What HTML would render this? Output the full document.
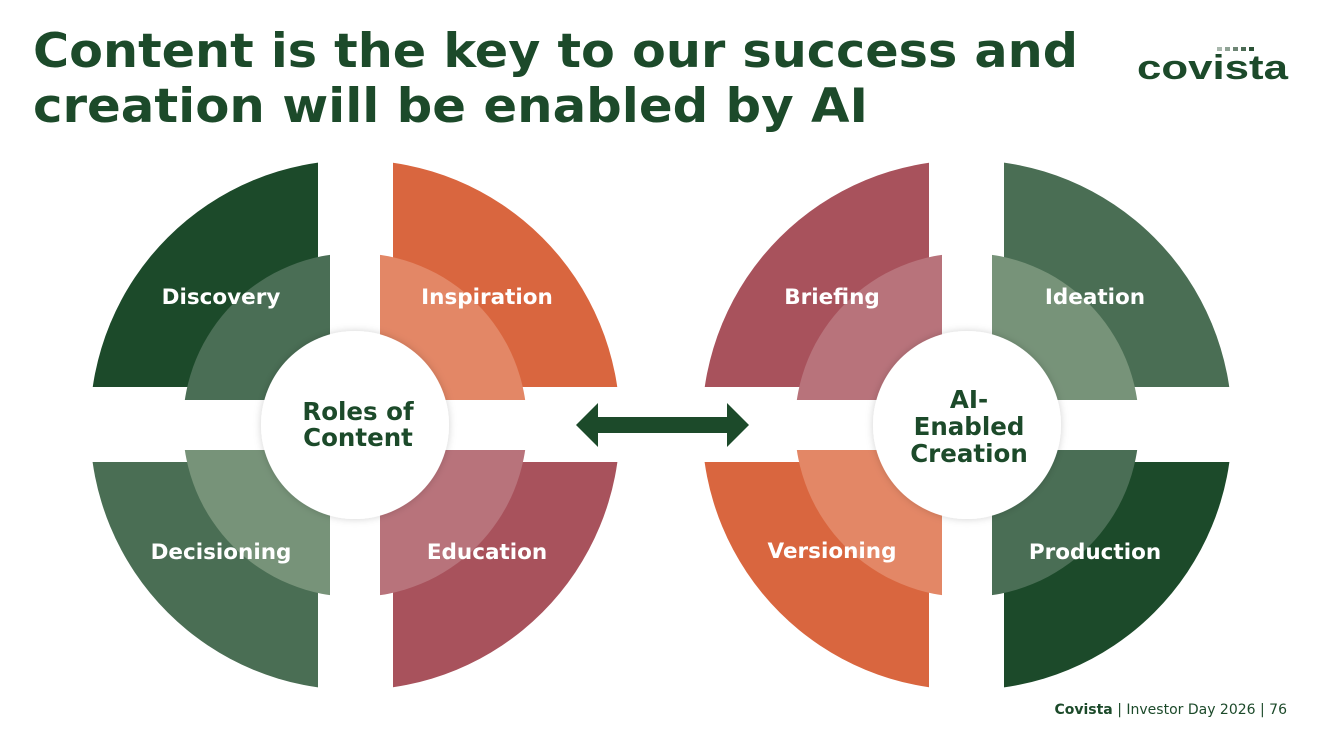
<!DOCTYPE html>
<html><head><meta charset="utf-8"><style>
html,body{margin:0;padding:0;background:#fff;}
svg{display:block}
</style></head><body>
<svg width="1333" height="749" viewBox="0 0 1333 749" xmlns="http://www.w3.org/2000/svg" font-family="'DejaVu Sans','Liberation Sans',sans-serif">
<defs>
<filter id="sh" x="-20%" y="-20%" width="140%" height="140%"><feDropShadow dx="0" dy="0" stdDeviation="4" flood-color="#000" flood-opacity="0.18"/></filter>
</defs>
<rect width="1333" height="749" fill="#fff"/>
<text x="33" y="67" font-size="47" font-weight="bold" fill="#1c4a2a" textLength="1045" lengthAdjust="spacingAndGlyphs">Content is the key to our success and</text>
<text x="33" y="122" font-size="47" font-weight="bold" fill="#1c4a2a" textLength="835" lengthAdjust="spacingAndGlyphs">creation will be enabled by AI</text>
<g fill="#1c4a2a">
<rect x="1217" y="47" width="5" height="4" fill="#a9b8ad"/><rect x="1225" y="47" width="5" height="4" fill="#8fa395"/><rect x="1233" y="47" width="5" height="4" fill="#6d8574"/><rect x="1241" y="47" width="5" height="4" fill="#4a6a53"/><rect x="1249" y="47" width="5" height="4" fill="#2b5236"/>
<text x="1137" y="79" font-size="34" font-weight="bold" textLength="151" lengthAdjust="spacingAndGlyphs" font-family="'Liberation Sans',sans-serif">covista</text>
</g>

<clipPath id="ltl"><rect x="0" y="0" width="318" height="387"/></clipPath>
<clipPath id="ltr"><rect x="393" y="0" width="400" height="387"/></clipPath>
<clipPath id="lbl"><rect x="0" y="462" width="318" height="300"/></clipPath>
<clipPath id="lbr"><rect x="393" y="462" width="400" height="300"/></clipPath>
<clipPath id="litl"><rect x="0" y="0" width="330" height="400"/></clipPath>
<clipPath id="litr"><rect x="380" y="0" width="400" height="400"/></clipPath>
<clipPath id="libl"><rect x="0" y="450" width="330" height="300"/></clipPath>
<clipPath id="libr"><rect x="380" y="450" width="400" height="300"/></clipPath>
<circle cx="355" cy="425" r="265" fill="#1c4a2a" clip-path="url(#ltl)"/>
<circle cx="355" cy="425" r="265" fill="#d9663f" clip-path="url(#ltr)"/>
<circle cx="355" cy="425" r="265" fill="#4a6e54" clip-path="url(#lbl)"/>
<circle cx="355" cy="425" r="265" fill="#a8525c" clip-path="url(#lbr)"/>
<circle cx="355" cy="425" r="172" fill="#4a6e55" clip-path="url(#litl)"/>
<circle cx="355" cy="425" r="172" fill="#e38766" clip-path="url(#litr)"/>
<circle cx="355" cy="425" r="172" fill="#779379" clip-path="url(#libl)"/>
<circle cx="355" cy="425" r="172" fill="#b8737b" clip-path="url(#libr)"/>
<circle cx="355" cy="425" r="94" fill="#fff" filter="url(#sh)"/>
<g font-size="21.5" font-weight="bold" fill="#fff" text-anchor="middle">
<text x="221" y="304">Discovery</text>
<text x="487" y="304">Inspiration</text>
<text x="221" y="559">Decisioning</text>
<text x="487" y="559">Education</text>
</g>
<g font-size="24.5" font-weight="bold" fill="#1c4a2a" text-anchor="middle">
<text x="358" y="420">Roles of</text>
<text x="358" y="446">Content</text>
</g>

<polygon points="576,425 598,403 598,417 727,417 727,403 749,425 727,447 727,433 598,433 598,447" fill="#1c4a2a"/>

<clipPath id="rtl"><rect x="600" y="0" width="329" height="387"/></clipPath>
<clipPath id="rtr"><rect x="1004" y="0" width="400" height="387"/></clipPath>
<clipPath id="rbl"><rect x="600" y="462" width="329" height="300"/></clipPath>
<clipPath id="rbr"><rect x="1004" y="462" width="400" height="300"/></clipPath>
<clipPath id="ritl"><rect x="600" y="0" width="342" height="400"/></clipPath>
<clipPath id="ritr"><rect x="992" y="0" width="400" height="400"/></clipPath>
<clipPath id="ribl"><rect x="600" y="450" width="342" height="300"/></clipPath>
<clipPath id="ribr"><rect x="992" y="450" width="400" height="300"/></clipPath>
<circle cx="967" cy="425" r="265" fill="#a8525c" clip-path="url(#rtl)"/>
<circle cx="967" cy="425" r="265" fill="#4a6e54" clip-path="url(#rtr)"/>
<circle cx="967" cy="425" r="265" fill="#d9663f" clip-path="url(#rbl)"/>
<circle cx="967" cy="425" r="265" fill="#1c4a2a" clip-path="url(#rbr)"/>
<circle cx="967" cy="425" r="172" fill="#b8737b" clip-path="url(#ritl)"/>
<circle cx="967" cy="425" r="172" fill="#779379" clip-path="url(#ritr)"/>
<circle cx="967" cy="425" r="172" fill="#e38766" clip-path="url(#ribl)"/>
<circle cx="967" cy="425" r="172" fill="#4a6e55" clip-path="url(#ribr)"/>
<circle cx="967" cy="425" r="94" fill="#fff" filter="url(#sh)"/>
<g font-size="21.5" font-weight="bold" fill="#fff" text-anchor="middle">
<text x="832" y="304">Briefing</text>
<text x="1095" y="304">Ideation</text>
<text x="832" y="558">Versioning</text>
<text x="1095" y="559">Production</text>
</g>
<g font-size="24.5" font-weight="bold" fill="#1c4a2a" text-anchor="middle">
<text x="969" y="408">AI-</text>
<text x="969" y="435">Enabled</text>
<text x="969" y="462">Creation</text>
</g>

<text x="1287" y="714" font-size="14" fill="#1c4a2a" text-anchor="end" font-family="'DejaVu Sans',sans-serif"><tspan font-weight="bold">Covista</tspan> | Investor Day 2026 |  76</text>
</svg>
</body></html>
